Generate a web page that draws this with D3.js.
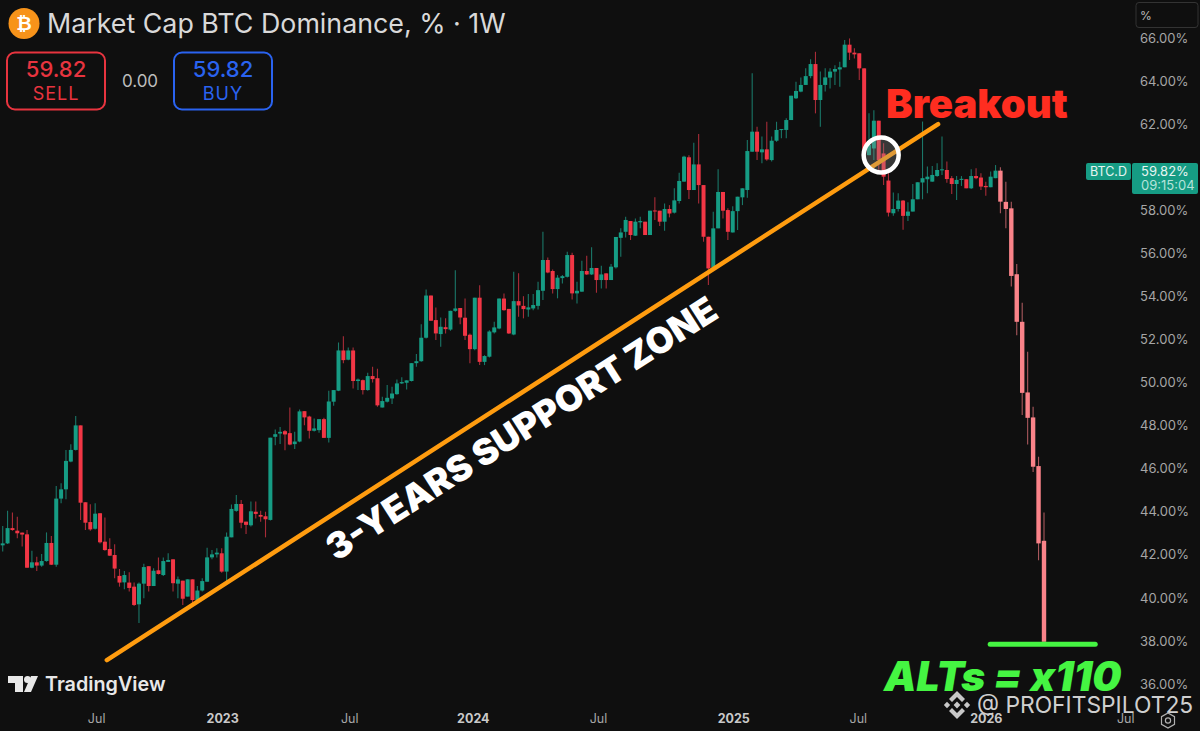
<!DOCTYPE html>
<html>
<head>
<meta charset="utf-8">
<script src="https://cdnjs.cloudflare.com/ajax/libs/d3/7.8.5/d3.min.js"></script>
<style>
  html, body { margin: 0; padding: 0; background: #0f0f0f; }
  svg { display: block; font-family: Inter, "Noto Sans", sans-serif; }
</style>
</head>
<body>
<script>
// Weekly candles, one entry per week, in %
const opens = [42.44,42.53,43.24,43.12,43.03,42.95,41.40,41.65,41.50,41.71,42.55,41.54,44.61,45.04,46.33,46.87,48.01,44.44,43.52,43.21,43.93,42.61,42.27,41.99,41.02,40.72,40.71,40.52,39.70,40.66,41.47,40.55,41.28,41.06,41.67,41.79,40.66,40.80,40.06,40.86,39.90,40.34,40.75,41.88,42.02,42.07,41.22,42.81,44.04,44.36,43.54,43.37,44.00,43.85,43.79,43.62,47.48,47.63,47.74,47.65,47.14,47.26,48.67,48.42,47.76,47.79,48.30,47.43,49.11,49.62,51.49,51.06,51.49,50.07,50.11,49.65,50.30,50.20,48.84,49.11,49.26,49.46,49.96,49.99,50.07,50.90,50.99,52.08,54.04,52.90,52.25,52.57,52.46,53.33,53.46,53.01,52.22,51.55,53.94,50.96,51.20,52.33,52.51,53.90,53.42,52.23,53.78,53.56,53.39,53.44,53.56,54.26,55.69,55.18,54.34,54.85,54.91,55.92,54.14,54.22,55.18,55.02,55.32,54.76,55.07,54.76,55.35,56.72,57.00,57.50,56.82,57.44,57.47,56.85,57.99,57.98,57.47,58.06,57.89,58.43,59.33,60.46,58.94,60.13,59.17,56.77,55.33,57.16,58.85,58.01,56.97,57.96,58.60,58.94,60.72,61.65,60.69,60.83,60.33,61.23,61.73,61.73,62.19,63.20,63.51,63.82,64.23,64.79,63.12,63.82,64.16,64.44,64.54,64.64,65.69,65.32,65.29,64.59,60.56,60.87,62.16,60.64,59.38,57.86,58.06,58.45,57.74,57.94,58.51,59.29,59.44,59.33,59.59,59.87,59.87,59.49,59.22,59.41,59.44,59.02,59.59,59.52,59.13,59.07,59.49,59.84,58.39,58.09,55.03,52.82,49.54,48.38,46.12,42.65];
const highs = [43.34,44.05,43.97,43.77,43.03,43.15,42.19,41.91,42.04,43.04,42.87,45.20,45.32,46.87,47.13,48.45,48.01,44.44,44.35,44.39,43.93,43.73,42.77,42.49,41.34,41.25,41.19,40.71,40.71,41.59,41.47,41.37,41.87,41.87,42.07,41.79,40.99,40.80,40.86,40.86,40.55,40.91,42.33,42.22,42.30,42.30,43.03,44.34,44.78,44.55,43.54,44.47,44.47,44.05,44.00,47.44,47.82,47.94,47.79,48.84,47.71,48.75,48.67,48.46,48.33,48.30,48.36,49.62,49.65,51.86,52.15,51.63,51.63,50.19,50.14,50.45,50.73,50.64,49.34,49.88,49.80,50.14,50.24,50.11,50.90,51.32,52.71,54.32,54.04,53.49,53.02,52.98,53.33,55.22,53.46,53.90,52.28,53.94,54.52,51.27,52.43,52.82,53.90,54.14,53.42,55.14,55.07,54.01,54.11,54.11,54.68,57.00,55.81,55.25,54.99,54.99,56.07,56.03,54.68,55.66,55.89,56.28,55.32,55.42,55.07,55.50,56.76,57.16,57.70,57.50,57.62,57.70,57.47,57.98,58.60,57.98,58.32,58.24,59.02,59.74,60.53,60.56,61.14,61.54,59.17,56.77,57.93,59.90,58.85,58.09,58.19,58.63,59.02,61.26,64.36,61.88,61.42,62.11,61.42,62.11,61.77,62.27,63.32,63.97,64.16,64.59,65.01,65.36,64.44,64.59,64.59,64.74,64.90,65.91,65.98,65.52,65.29,64.59,62.50,62.65,62.16,61.11,59.72,58.82,58.79,58.48,58.37,59.22,59.30,62.12,60.03,60.06,60.18,61.42,60.26,59.59,59.59,59.59,59.44,59.90,59.95,59.72,59.33,59.80,60.10,60.00,59.33,58.40,55.51,53.70,51.43,48.87,46.55,43.97];
const lows = [42.15,42.50,43.12,42.77,42.38,41.40,41.37,41.25,41.45,41.68,41.53,41.45,44.39,44.58,46.30,46.84,43.62,43.15,43.12,43.18,42.53,42.19,41.95,40.91,40.52,40.40,40.29,39.62,38.83,39.98,40.29,40.55,41.08,41.02,41.67,40.29,39.98,39.67,40.06,39.75,39.87,40.29,40.75,41.79,41.88,41.17,40.75,42.81,44.00,43.23,42.97,43.31,43.69,43.54,42.81,43.59,47.09,47.14,46.86,47.09,46.91,47.23,48.02,47.40,47.73,47.67,47.43,47.22,48.92,49.60,50.89,51.04,49.72,49.65,49.45,49.62,50.00,48.87,48.84,49.07,49.00,49.43,49.93,49.68,50.05,50.73,50.96,52.05,52.87,51.97,51.66,52.28,52.40,53.29,52.71,51.97,50.89,51.50,50.81,50.81,51.16,52.28,52.48,53.33,52.25,52.20,53.05,52.98,53.05,53.36,53.39,53.83,55.07,54.14,53.91,54.60,54.88,53.86,53.67,54.22,54.99,54.99,54.17,54.37,54.37,54.76,55.30,55.84,56.74,56.62,56.80,57.16,56.85,56.85,57.55,57.27,57.05,57.67,57.85,58.32,59.33,58.52,58.94,58.32,56.54,54.53,55.33,57.16,57.62,56.62,56.97,57.08,58.24,58.58,60.72,60.33,60.18,60.30,60.26,61.18,61.34,61.34,62.19,63.17,63.48,63.82,64.13,62.50,61.88,63.51,63.66,63.82,63.74,64.64,64.98,65.05,64.05,60.18,60.56,60.33,59.87,59.17,57.71,57.74,57.94,57.09,57.50,57.94,58.51,58.51,58.79,59.33,59.56,59.64,59.28,58.76,58.48,59.13,59.02,58.99,59.44,58.94,58.67,59.07,59.49,57.86,57.16,54.46,52.20,48.49,47.12,45.85,41.75,37.96];
const closes = [42.53,43.24,43.15,43.00,42.94,41.40,41.65,41.50,41.71,42.55,41.54,44.61,45.04,46.36,46.87,48.01,44.42,43.49,43.18,43.91,42.58,42.22,41.96,41.36,40.71,41.06,40.46,39.67,40.66,41.43,40.55,41.26,41.11,41.71,41.76,40.68,40.86,39.96,40.86,39.90,40.34,40.78,41.88,42.02,42.10,41.22,42.84,44.13,44.36,43.49,43.39,44.02,43.90,43.77,43.65,47.44,47.60,47.71,47.59,47.12,47.26,48.66,48.38,47.76,47.87,48.30,47.43,49.12,49.65,51.49,51.04,51.49,50.07,50.14,49.65,50.30,50.16,48.94,49.14,49.29,49.49,49.96,50.02,50.10,50.90,50.99,52.08,54.04,52.87,52.28,52.59,52.48,53.33,53.44,53.02,52.17,51.55,53.94,50.96,51.23,52.37,52.56,53.90,53.36,52.28,53.78,53.58,53.41,53.49,53.60,54.29,55.69,55.11,54.34,54.87,54.94,55.92,54.14,54.26,55.18,55.02,55.32,54.76,55.02,54.76,55.38,56.76,56.97,57.55,56.85,57.47,57.50,56.85,57.98,57.96,57.47,58.06,57.85,58.46,59.36,60.49,58.94,60.13,59.17,56.77,55.30,57.16,58.85,57.98,57.00,57.96,58.63,59.02,60.75,61.65,60.72,60.83,60.36,61.23,61.73,61.77,62.19,63.32,63.54,63.82,64.23,64.79,63.12,63.82,64.17,64.44,64.56,64.64,65.69,65.32,65.24,64.59,60.64,61.03,62.16,60.33,59.56,57.89,58.06,58.45,57.74,57.94,58.51,59.30,59.49,59.56,59.64,59.87,59.90,59.45,59.22,59.41,59.46,59.02,59.59,59.49,59.10,59.07,59.56,59.84,58.40,58.06,54.95,52.82,49.52,48.36,46.09,42.53,37.96];

// the last stretch of pink candles is a drawn-in projection, not real weeks
const projectionStart = 205;

// Axis ticks, x ones given as week numbers
const priceTicks = [66, 64, 62, 58, 56, 54, 52, 50, 48, 46, 44, 42, 40, 38, 36];
const weekTicks = [19.2, 45.1, 71.2, 96.6, 122.3, 150.1, 175.7, 202, 227.9];
const weekLabels = ['Jul', '2023', 'Jul', '2024', 'Jul', '2025', 'Jul', '2026', 'Jul'];
const yearLabels = ['2023', '2024', '2025', '2026'];

// Annotations, in chart units [week, %]
const supportLine = [[21.4, 37.11], [192.2, 62.0]];
const targetLine = [[202.9, 37.85], [222.4, 37.85]];
const breakoutPoint = [180.5, 60.57];

const lastPrice = 59.82;

const width = 1200;
const height = 731;

const colors = {
  bg: '#0f0f0f',
  up: '#169c84',
  upWick: '#1a7768',
  down: '#f23645',
  downWick: '#a82c38',
  proj: '#fa8389',
  projWick: '#a9585d',
  axis: '#a6a6a6',
  orange: '#ff9c0f',
  lime: '#45f542'
};

const svg = d3.select('body').append('svg')
  .attr('width', width)
  .attr('height', height);

svg.append('rect')
  .attr('width', width)
  .attr('height', height)
  .attr('fill', colors.bg);

// Scales: real weeks, then the wider spaced projection
const x = d3.scaleLinear()
  .domain([0, projectionStart, 213])
  .range([2.7, 1000.4, 1044]);

const y = d3.scaleLinear()
  .domain([36, 66])
  .range([684, 38]);

const candles = opens.map((o, i) => ({
  i: i,
  open: o,
  high: highs[i],
  low: lows[i],
  close: closes[i]
}));

const bodyColor = d => d.i >= projectionStart ? colors.proj : (d.close >= d.open ? colors.up : colors.down);
const wickColor = d => d.i >= projectionStart ? colors.projWick : (d.close >= d.open ? colors.upWick : colors.downWick);
const bodyWidth = d => d.i >= projectionStart ? 4.4 : 4;

// Wicks
svg.append('g').selectAll('line')
  .data(candles)
  .enter()
  .append('line')
  .attr('x1', d => x(d.i))
  .attr('x2', d => x(d.i))
  .attr('y1', d => y(d.high))
  .attr('y2', d => y(d.low))
  .attr('stroke', wickColor)
  .attr('stroke-width', 1.1);

// Bodies
svg.append('g').selectAll('rect')
  .data(candles)
  .enter()
  .append('rect')
  .attr('x', d => x(d.i) - bodyWidth(d) / 2)
  .attr('y', d => y(Math.max(d.open, d.close)))
  .attr('width', bodyWidth)
  .attr('height', d => Math.max(1, Math.abs(y(d.open) - y(d.close))))
  .attr('fill', bodyColor);

// Price axis
const yAxis = svg.append('g')
  .attr('transform', 'translate(1128,0)')
  .call(d3.axisRight(y)
    .tickValues(priceTicks)
    .tickSize(0)
    .tickPadding(12)
    .tickFormat(d => d.toFixed(2) + '%'));
yAxis.select('.domain').remove();
yAxis.selectAll('text')
  .attr('fill', colors.axis)
  .style('font-size', '13px')
  .style('font-family', 'Inter, sans-serif');

// Time axis
const xAxis = svg.append('g')
  .attr('transform', 'translate(0,714)')
  .call(d3.axisBottom(x)
    .tickValues(weekTicks)
    .tickSize(0)
    .tickPadding(0)
    .tickFormat((d, i) => weekLabels[i]));
xAxis.select('.domain').remove();
xAxis.selectAll('text')
  .attr('fill', (d, i) => yearLabels.includes(weekLabels[i]) ? '#c9c9c9' : colors.axis)
  .style('font-weight', (d, i) => yearLabels.includes(weekLabels[i]) ? 700 : 400)
  .style('font-size', '12.5px')
  .style('font-family', 'Inter, sans-serif');

// Support trendline and breakout marker
const line = d3.line().x(d => x(d[0])).y(d => y(d[1]));

svg.append('path')
  .attr('d', line(supportLine))
  .attr('stroke', colors.orange)
  .attr('stroke-width', 4.5)
  .attr('stroke-linecap', 'round')
  .attr('fill', 'none');

svg.append('circle')
  .attr('cx', x(breakoutPoint[0]))
  .attr('cy', y(breakoutPoint[1]))
  .attr('r', 17.5)
  .attr('fill', 'rgba(150,150,150,0.3)')
  .attr('stroke', '#fff')
  .attr('stroke-width', 4.5);

svg.append('path')
  .attr('d', line(targetLine))
  .attr('stroke', colors.lime)
  .attr('stroke-width', 5)
  .attr('stroke-linecap', 'round')
  .attr('fill', 'none');

svg.append('text')
  .attr('transform', 'translate(523,431) rotate(-32.5)')
  .attr('text-anchor', 'middle')
  .attr('dominant-baseline', 'middle')
  .attr('fill', '#fff')
  .style('font-size', '36px')
  .style('font-weight', 900)
  .text('3-YEARS SUPPORT ZONE');

svg.append('text')
  .attr('x', 886)
  .attr('y', 118)
  .attr('fill', '#ff2d20')
  .style('font-size', '40px')
  .style('font-weight', 900)
  .text('Breakout');

svg.append('text')
  .attr('x', 884)
  .attr('y', 691)
  .attr('fill', colors.lime)
  .style('font-size', '41px')
  .style('font-weight', 900)
  .style('font-style', 'italic')
  .text('ALTs = x110');

// Header
svg.append('circle')
  .attr('cx', 24)
  .attr('cy', 23.5)
  .attr('r', 15.5)
  .attr('fill', '#f7931a');

svg.append('text')
  .attr('x', 24)
  .attr('y', 30)
  .attr('text-anchor', 'middle')
  .attr('fill', '#fff')
  .style('font-size', '19px')
  .style('font-weight', 700)
  .style('font-family', 'DejaVu Sans, sans-serif')
  .text('₿');

svg.append('text')
  .attr('x', 47)
  .attr('y', 33)
  .attr('fill', '#d9d9d9')
  .style('font-size', '26.8px')
  .text('Market Cap BTC Dominance, % · 1W');

const tradeBoxes = [
  { left: 7, label: 'SELL', color: '#e8343f' },
  { left: 174, label: 'BUY', color: '#2a63f0' }
];

tradeBoxes.forEach(b => {
  svg.append('rect')
    .attr('x', b.left)
    .attr('y', 52.5)
    .attr('width', 98)
    .attr('height', 57)
    .attr('rx', 8)
    .attr('fill', 'none')
    .attr('stroke', b.color)
    .attr('stroke-width', 2);
  svg.append('text')
    .attr('x', b.left + 49)
    .attr('y', 77)
    .attr('text-anchor', 'middle')
    .attr('fill', b.color)
    .style('font-size', '22px')
    .style('font-weight', 500)
    .text(lastPrice.toFixed(2));
  svg.append('text')
    .attr('x', b.left + 49)
    .attr('y', 100)
    .attr('text-anchor', 'middle')
    .attr('fill', b.color)
    .style('font-size', '18px')
    .style('letter-spacing', '1px')
    .text(b.label);
});

svg.append('text')
  .attr('x', 140)
  .attr('y', 87)
  .attr('text-anchor', 'middle')
  .attr('fill', '#bdbdbd')
  .style('font-size', '17px')
  .text('0.00');

// Top right % box
svg.append('rect')
  .attr('x', 1136)
  .attr('y', 2.5)
  .attr('width', 62)
  .attr('height', 25)
  .attr('rx', 3)
  .attr('fill', 'none')
  .attr('stroke', '#333');

svg.append('text')
  .attr('x', 1140)
  .attr('y', 20)
  .attr('fill', '#bdbdbd')
  .style('font-size', '12px')
  .text('%');

// Last price tags
const tagY = y(lastPrice);

svg.append('rect')
  .attr('x', 1086)
  .attr('y', tagY - 8)
  .attr('width', 45)
  .attr('height', 17)
  .attr('rx', 2)
  .attr('fill', colors.up);

svg.append('text')
  .attr('x', 1108.5)
  .attr('y', tagY + 5)
  .attr('text-anchor', 'middle')
  .attr('fill', '#e6f5f2')
  .style('font-size', '12.5px')
  .text('BTC.D');

svg.append('rect')
  .attr('x', 1132)
  .attr('y', tagY - 8)
  .attr('width', 66)
  .attr('height', 31)
  .attr('rx', 2)
  .attr('fill', colors.up);

svg.append('text')
  .attr('x', 1141)
  .attr('y', tagY + 5)
  .attr('fill', '#e6f5f2')
  .style('font-size', '13px')
  .text(lastPrice.toFixed(2) + '%');

svg.append('text')
  .attr('x', 1141)
  .attr('y', tagY + 19)
  .attr('fill', '#b5e3da')
  .style('font-size', '13px')
  .text('09:15:04');

// TradingView mark
const tvLogo = svg.append('g').attr('fill', '#e8e8e8');
tvLogo.append('path').attr('d', 'M8 676 H23 V692 H15 V683 H8 Z');
tvLogo.append('circle').attr('cx', 27.5).attr('cy', 679.5).attr('r', 3.5);
tvLogo.append('path').attr('d', 'M31 676 H38 L31 692 H24 Z');

svg.append('text')
  .attr('x', 45)
  .attr('y', 691)
  .attr('fill', '#e8e8e8')
  .style('font-size', '19.8px')
  .style('font-weight', 600)
  .text('TradingView');

// Binance watermark
const wm = svg.append('g')
  .attr('transform', 'translate(957,705)')
  .attr('fill', '#c8c8c8');
const wmShapes = [
  'M0 -14 L8 -6 L5 -3 L0 -8 L-5 -3 L-8 -6 Z',
  'M0 14 L8 6 L5 3 L0 8 L-5 3 L-8 6 Z',
  'M-10 -3.2 L-6.8 0 L-10 3.2 L-13.2 0 Z',
  'M10 -3.2 L13.2 0 L10 3.2 L6.8 0 Z',
  'M0 -3.4 L3.4 0 L0 3.4 L-3.4 0 Z'
];
wmShapes.forEach(s => wm.append('path').attr('d', s));

svg.append('text')
  .attr('x', 977)
  .attr('y', 713)
  .attr('fill', '#cfcfcf')
  .style('font-size', '22.8px')
  .text('@ PROFITSPILOT25');

// Settings gear at the axis corner
svg.append('path')
  .attr('d', 'M1168 713 L1174.5 716.7 V724.3 L1168 728 L1161.5 724.3 V716.7 Z')
  .attr('fill', 'none')
  .attr('stroke', '#b0b0b0')
  .attr('stroke-width', 1.2);
svg.append('circle')
  .attr('cx', 1168)
  .attr('cy', 720.5)
  .attr('r', 2.6)
  .attr('fill', 'none')
  .attr('stroke', '#b0b0b0')
  .attr('stroke-width', 1.2);
</script>
</body>
</html>
